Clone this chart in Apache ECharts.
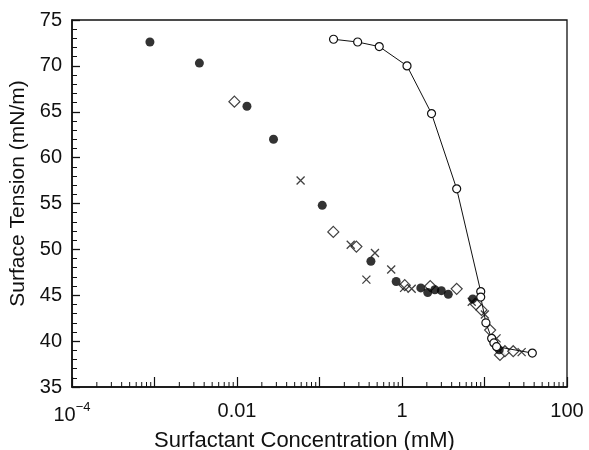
<!DOCTYPE html>
<html>
<head>
<meta charset="utf-8">
<script src="https://cdn.jsdelivr.net/npm/echarts@6/dist/echarts.min.js"></script>
<style>
  html, body { margin: 0; padding: 0; background: #fff; }
  #chart { width: 589px; height: 450px; }
</style>
</head>
<body>
<div id="chart"></div>
<script>
// filled circles
const filledX = [0.00088, 0.0035, 0.0132, 0.0277, 0.108, 0.42, 0.85, 1.69, 2.05, 2.5, 3.0, 3.64, 7.2, 15.1];
const filledY = [72.6, 70.3, 65.6, 62.0, 54.8, 48.7, 46.5, 45.8, 45.3, 45.6, 45.5, 45.1, 44.6, 39.05];

// open circles joined by a line
const openX = [0.148, 0.29, 0.53, 1.15, 2.28, 4.6, 9.0, 9.0, 10.4, 12.2, 13.0, 14.0, 38];
const openY = [72.9, 72.6, 72.1, 70.0, 64.8, 56.6, 45.4, 44.8, 42.0, 40.3, 39.8, 39.4, 38.7];

// open diamonds
const diamondX = [0.0093, 0.147, 0.28, 1.08, 2.2, 4.6, 7.9, 9.2, 11.7, 15.4, 17.7, 22.3];
const diamondY = [66.1, 51.9, 50.3, 46.1, 46.0, 45.7, 44.0, 43.4, 41.2, 38.5, 38.9, 38.9];

// crosses
const crossX = [0.059, 0.239, 0.37, 0.47, 0.74, 1.06, 1.31, 7.0, 10.1, 14.0, 28.2];
const crossY = [57.5, 50.5, 46.7, 49.6, 47.8, 45.8, 45.7, 44.3, 42.9, 40.3, 38.8];

// tick labels on the x axis (every second decade)
const xTickLabels = { '-4': '{b|10}{s|−4}', '-2': '0.01', '0': '1', '2': '100' };

// minor ticks 2..9 inside each decade
const decades = [-4, -3, -2, -1, 0, 1];
const minorSteps = [2, 3, 4, 5, 6, 7, 8, 9];
const minorTicks = [];
decades.forEach(d => minorSteps.forEach(m => minorTicks.push([m * Math.pow(10, d), 35])));

const pairs = (xs, ys) => xs.map((x, i) => [x, ys[i]]);

const chart = echarts.init(document.getElementById('chart'));
const font = 'Liberation Sans, Arial, sans-serif';

const option = {
  backgroundColor: '#fff',
  animation: false,
  textStyle: { fontFamily: font, color: '#111' },
  grid: {
    left: 72, right: 22, top: 20, bottom: 63,
    outerBoundsMode: 'none',
    containLabel: false,
    show: true, borderColor: '#111', borderWidth: 1.3
  },
  xAxis: {
    type: 'log',
    logBase: 10,
    min: 1e-4,
    max: 100,
    splitNumber: 6,
    name: 'Surfactant Concentration (mM)',
    nameLocation: 'middle',
    nameGap: 39,
    nameTextStyle: { fontSize: 22, color: '#111', fontFamily: font, padding: [0, 30, 0, 0] },
    axisLine: { onZero: false, lineStyle: { color: '#111', width: 1.6 } },
    axisTick: { inside: true, length: 10, lineStyle: { color: '#111', width: 1.2 } },
    splitLine: { show: false },
    axisLabel: {
      margin: 14,
      fontSize: 20,
      color: '#111',
      fontFamily: font,
      formatter: v => xTickLabels[String(Math.round(Math.log10(v)))] || '',
      rich: {
        b: { fontSize: 20, fontFamily: font, color: '#111', verticalAlign: 'bottom', lineHeight: 24 },
        s: { fontSize: 13, fontFamily: font, color: '#111', verticalAlign: 'top', lineHeight: 13 }
      }
    }
  },
  yAxis: {
    type: 'value',
    min: 35,
    max: 75,
    interval: 5,
    name: 'Surface Tension (mN/m)',
    nameLocation: 'middle',
    nameGap: 40,
    nameRotate: 90,
    nameTextStyle: { fontSize: 21, color: '#111', fontFamily: font, padding: [0, 0, 0, 20] },
    axisLine: { show: true, lineStyle: { color: '#111', width: 1.6 } },
    axisTick: { inside: true, length: 8, lineStyle: { color: '#111', width: 1.3 } },
    minorTick: { show: true, splitNumber: 5, length: 5, lineStyle: { color: '#111', width: 1 } },
    splitLine: { show: false },
    axisLabel: { margin: 10, fontSize: 20, color: '#111', fontFamily: font }
  },
  series: [
    {
      type: 'custom',
      silent: true,
      clip: false,
      data: minorTicks,
      renderItem: (params, api) => {
        const p = api.coord([api.value(0), api.value(1)]);
        return {
          type: 'line',
          shape: { x1: p[0], y1: p[1], x2: p[0], y2: p[1] - 5 },
          style: { stroke: '#111', lineWidth: 1 }
        };
      }
    },
    {
      name: 'open',
      type: 'line',
      data: pairs(openX, openY),
      symbol: 'circle',
      symbolSize: 8,
      lineStyle: { color: '#111', width: 1 },
      itemStyle: { color: '#fff', borderColor: '#111', borderWidth: 1.2 }
    },
    {
      name: 'diamond',
      type: 'scatter',
      data: pairs(diamondX, diamondY),
      symbol: 'diamond',
      symbolSize: [11, 11],
      itemStyle: { color: '#fff', borderColor: '#111', borderWidth: 1.2 }
    },
    {
      name: 'cross',
      type: 'scatter',
      data: pairs(crossX, crossY),
      symbol: 'path://M0,0L10,10M10,0L0,10',
      symbolSize: 8,
      itemStyle: { color: 'none', borderColor: '#111', borderWidth: 1.3 }
    },
    {
      name: 'filled',
      type: 'scatter',
      data: pairs(filledX, filledY),
      symbol: 'circle',
      symbolSize: 9,
      itemStyle: { color: '#000' }
    }
  ]
};

chart.setOption(option);
</script>
</body>
</html>
